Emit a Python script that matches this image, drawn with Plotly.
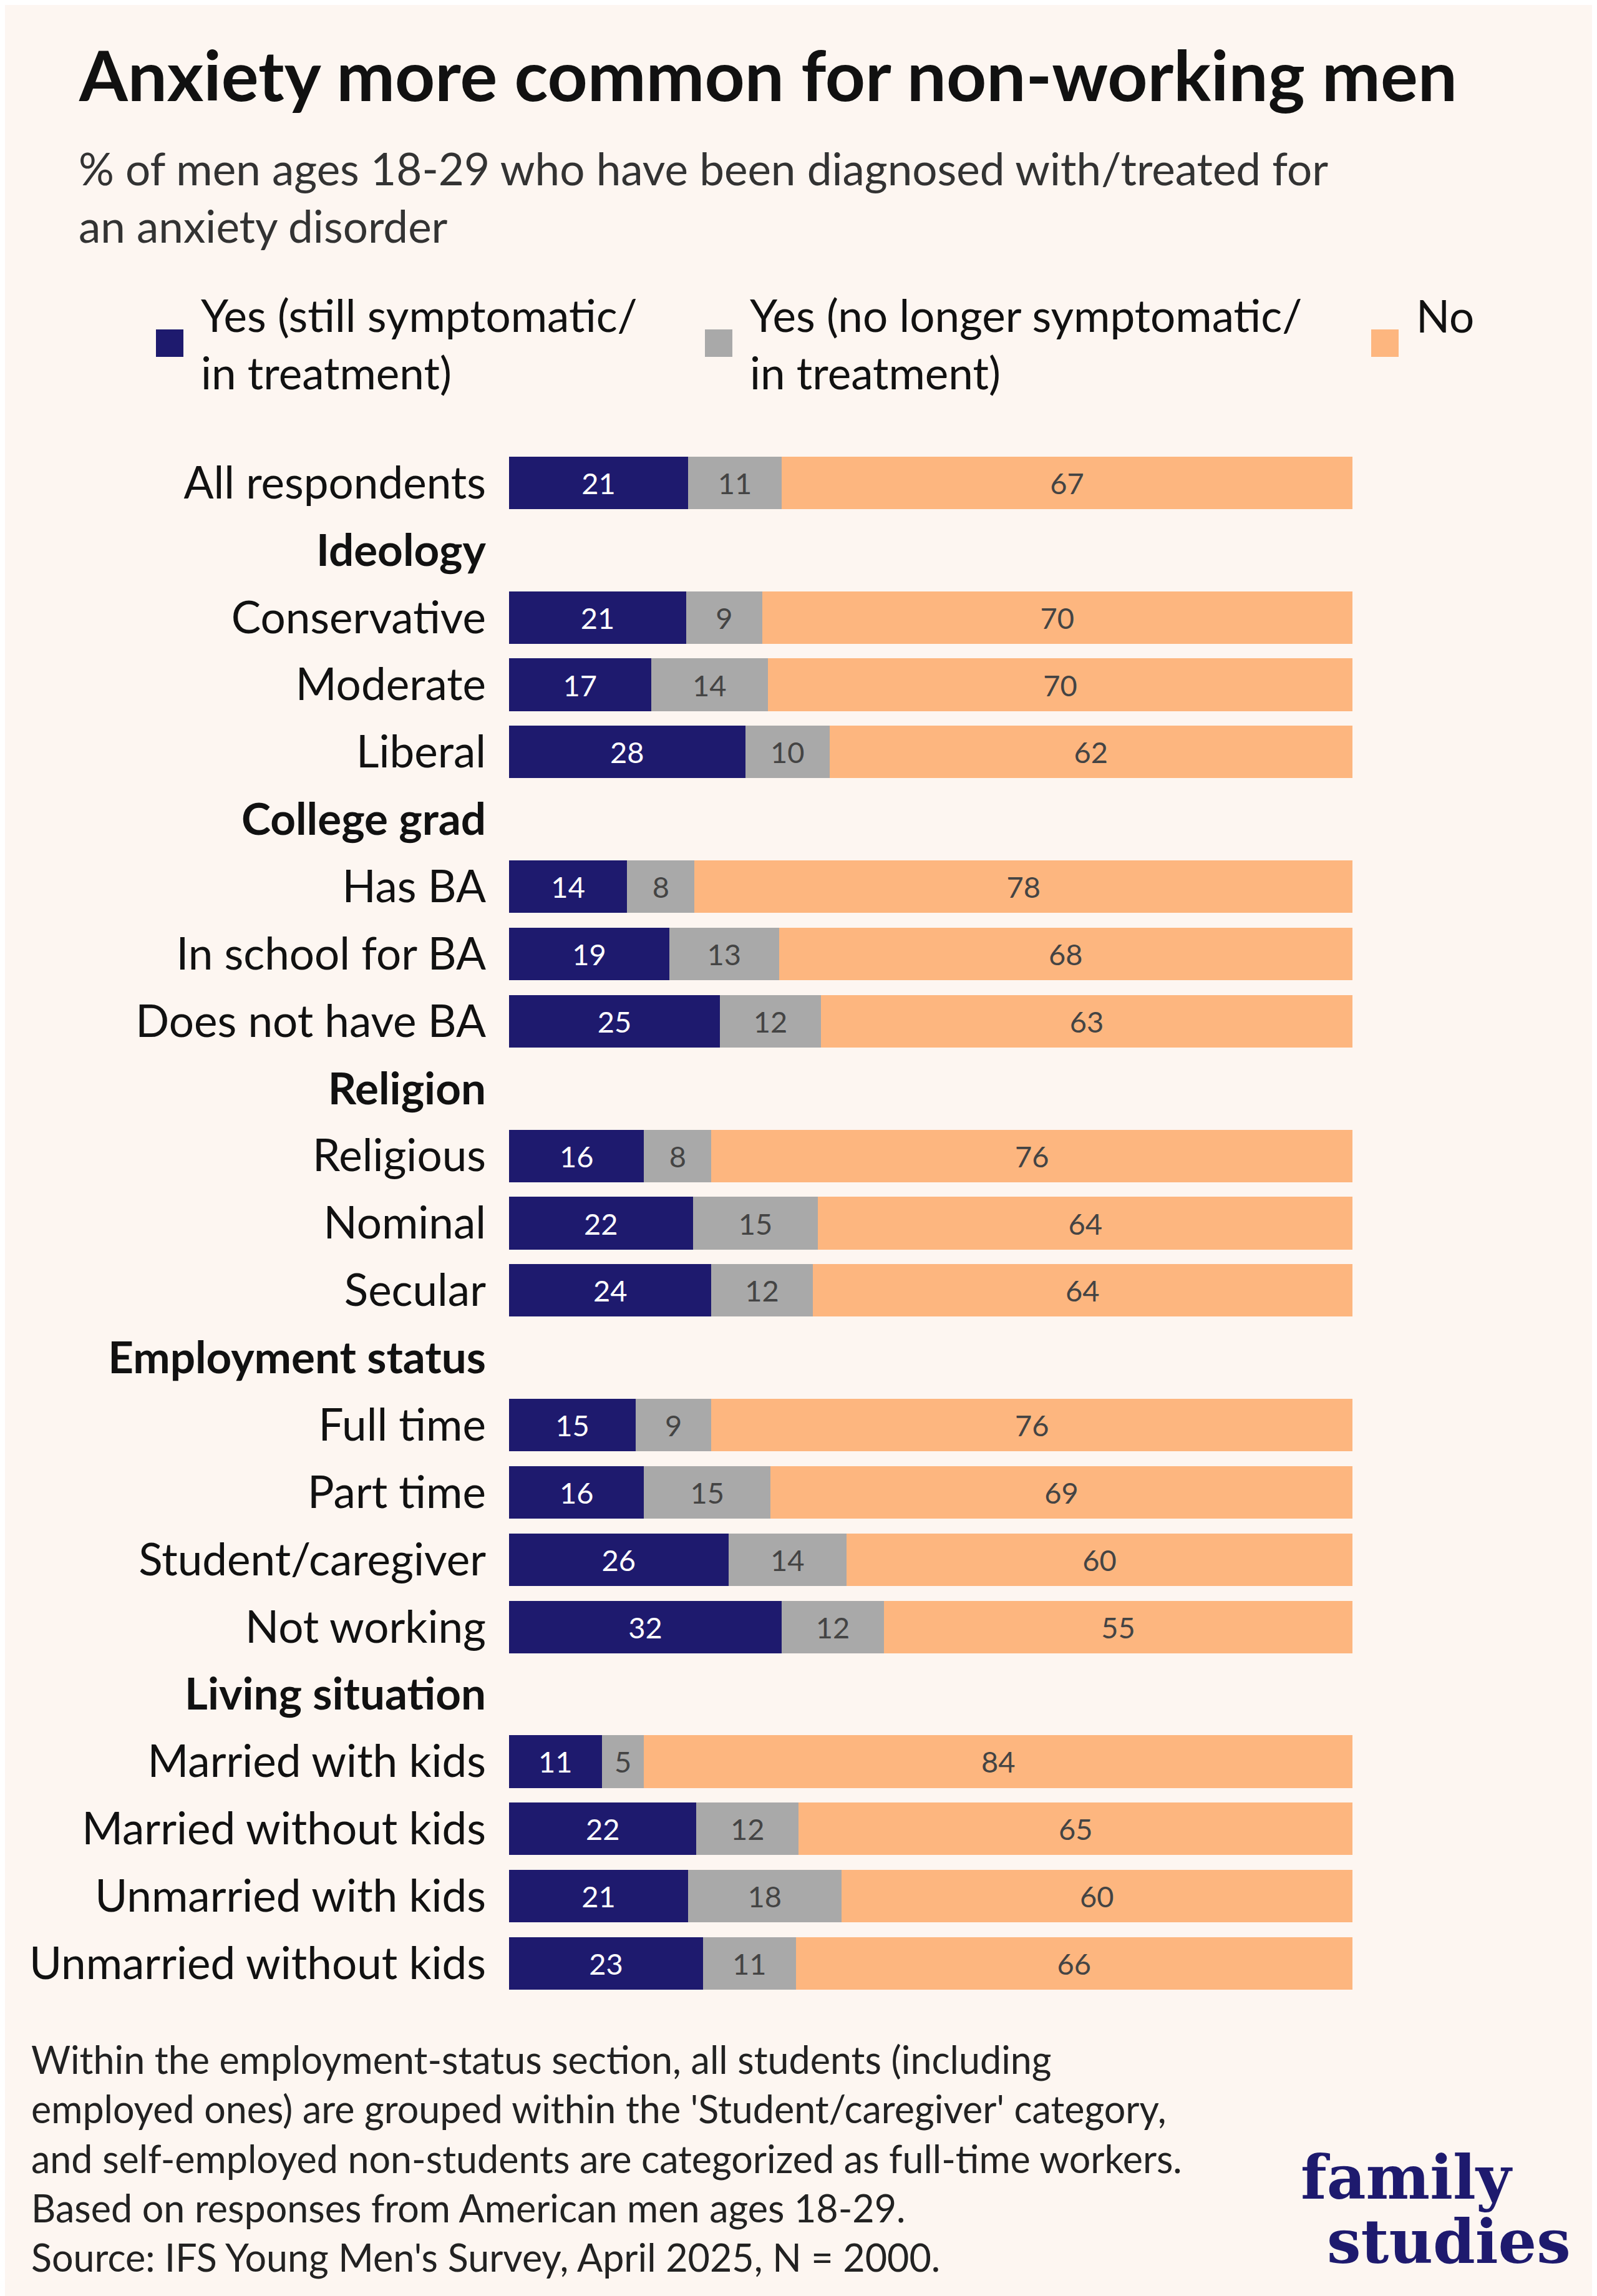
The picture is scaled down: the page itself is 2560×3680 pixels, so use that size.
import plotly.graph_objects as go

W, H = 2560, 3680
L, R, T, B = 808, 400, 712, 487
PW, PH = W - L - R, H - T - B

rows = ["All respondents", "Ideology", "Conservative", "Moderate", "Liberal",
        "College grad", "Has BA", "In school for BA", "Does not have BA",
        "Religion", "Religious", "Nominal", "Secular",
        "Employment status", "Full time", "Part time", "Student/caregiver", "Not working",
        "Living situation", "Married with kids", "Married without kids",
        "Unmarried with kids", "Unmarried without kids"]
headers = ["Ideology", "College grad", "Religion", "Employment status", "Living situation"]
yes_still = [21, None, 21, 17, 28, None, 14, 19, 25, None, 16, 22, 24, None, 15, 16, 26, 32, None, 11, 22, 21, 23]
yes_past = [11, None, 9, 14, 10, None, 8, 13, 12, None, 8, 15, 12, None, 9, 15, 14, 12, None, 5, 12, 18, 11]
no = [67, None, 70, 70, 62, None, 78, 68, 63, None, 76, 64, 64, None, 76, 69, 60, 55, None, 84, 65, 60, 66]

navy, grey, orange = "#1E1A6E", "#A9A9A9", "#FDB67F"
bg = "#FDF6F1"
font = "Lato"

def px(x):
    return (x - L) / PW

def py(y):
    return 1 - (y - T) / PH

fig = go.Figure()
for vals, col, tc in [(yes_still, navy, "white"), (yes_past, grey, "#444444"), (no, orange, "#444444")]:
    fig.add_bar(y=rows, x=vals, orientation="h", marker=dict(color=col, line=dict(width=0)),
                text=[str(v) if v is not None else "" for v in vals], textposition="inside",
                insidetextanchor="middle", textfont=dict(color=tc, size=47, family=font),
                width=0.78, showlegend=False, hoverinfo="skip")

ticktext = ["<b>%s</b>" % r if r in headers else r for r in rows]

fig.update_layout(
    width=W, height=H, paper_bgcolor=bg, plot_bgcolor=bg,
    barmode="stack", barnorm="percent", bargap=0.22,
    margin=dict(l=L, r=R, t=T, b=B),
    font=dict(family=font, color="#111111"),
    xaxis=dict(visible=False, range=[0, 100], fixedrange=True),
    yaxis=dict(autorange="reversed", tickmode="array", tickvals=rows, ticktext=ticktext,
               tickfont=dict(size=71, color="#111111"), showgrid=False, zeroline=False,
               ticks="", ticklabelstandoff=36),
)

ann = []
ann.append(dict(x=px(116), y=py(110), text="<b>Anxiety more common for non-working men</b>",
                font=dict(size=112, color="#111111")))
ann.append(dict(x=px(116), y=py(307), text="% of men ages 18-29 who have been diagnosed with/treated for<br>an anxiety disorder",
                font=dict(size=71, color="#333333")))
legend = [(214, "Yes (still symptomatic/<br>in treatment)", navy),
          (1094, "Yes (no longer symptomatic/<br>in treatment)", grey),
          (2162, "No", orange)]
shapes = []
for x0, txt, col in legend:
    shapes.append(dict(type="rect", xref="paper", yref="paper", x0=px(x0 + 28), x1=px(x0 + 72),
                       y0=py(564), y1=py(520), fillcolor=col, line=dict(width=0)))
    ann.append(dict(x=px(x0 + 98), y=py(542 if txt != "No" else 497), text=txt,
                    font=dict(size=71, color="#111111")))
foot = ("Within the employment-status section, all students (including<br>"
        "employed ones) are grouped within the 'Student/caregiver' category,<br>"
        "and self-employed non-students are categorized as full-time workers.<br>"
        "Based on responses from American men ages 18-29.<br>"
        "Source: IFS Young Men's Survey, April 2025, N = 2000.")
ann.append(dict(x=px(40), y=py(3451), text=foot, font=dict(size=61, color="#222222")))
ann.append(dict(x=px(2075), y=py(3482), text="<b>family</b>", xanchor="left",
                font=dict(size=97, color=navy, family="DejaVu Serif")))
ann.append(dict(x=px(2117), y=py(3585), text="<b>studies</b>", xanchor="left",
                font=dict(size=97, color=navy, family="DejaVu Serif")))
for a in ann:
    a.setdefault("xanchor", "left")
    a.update(xref="paper", yref="paper", yanchor="middle", showarrow=False, align="left")
fig.update_layout(annotations=ann, shapes=shapes)

fig.write_html("out.html")
